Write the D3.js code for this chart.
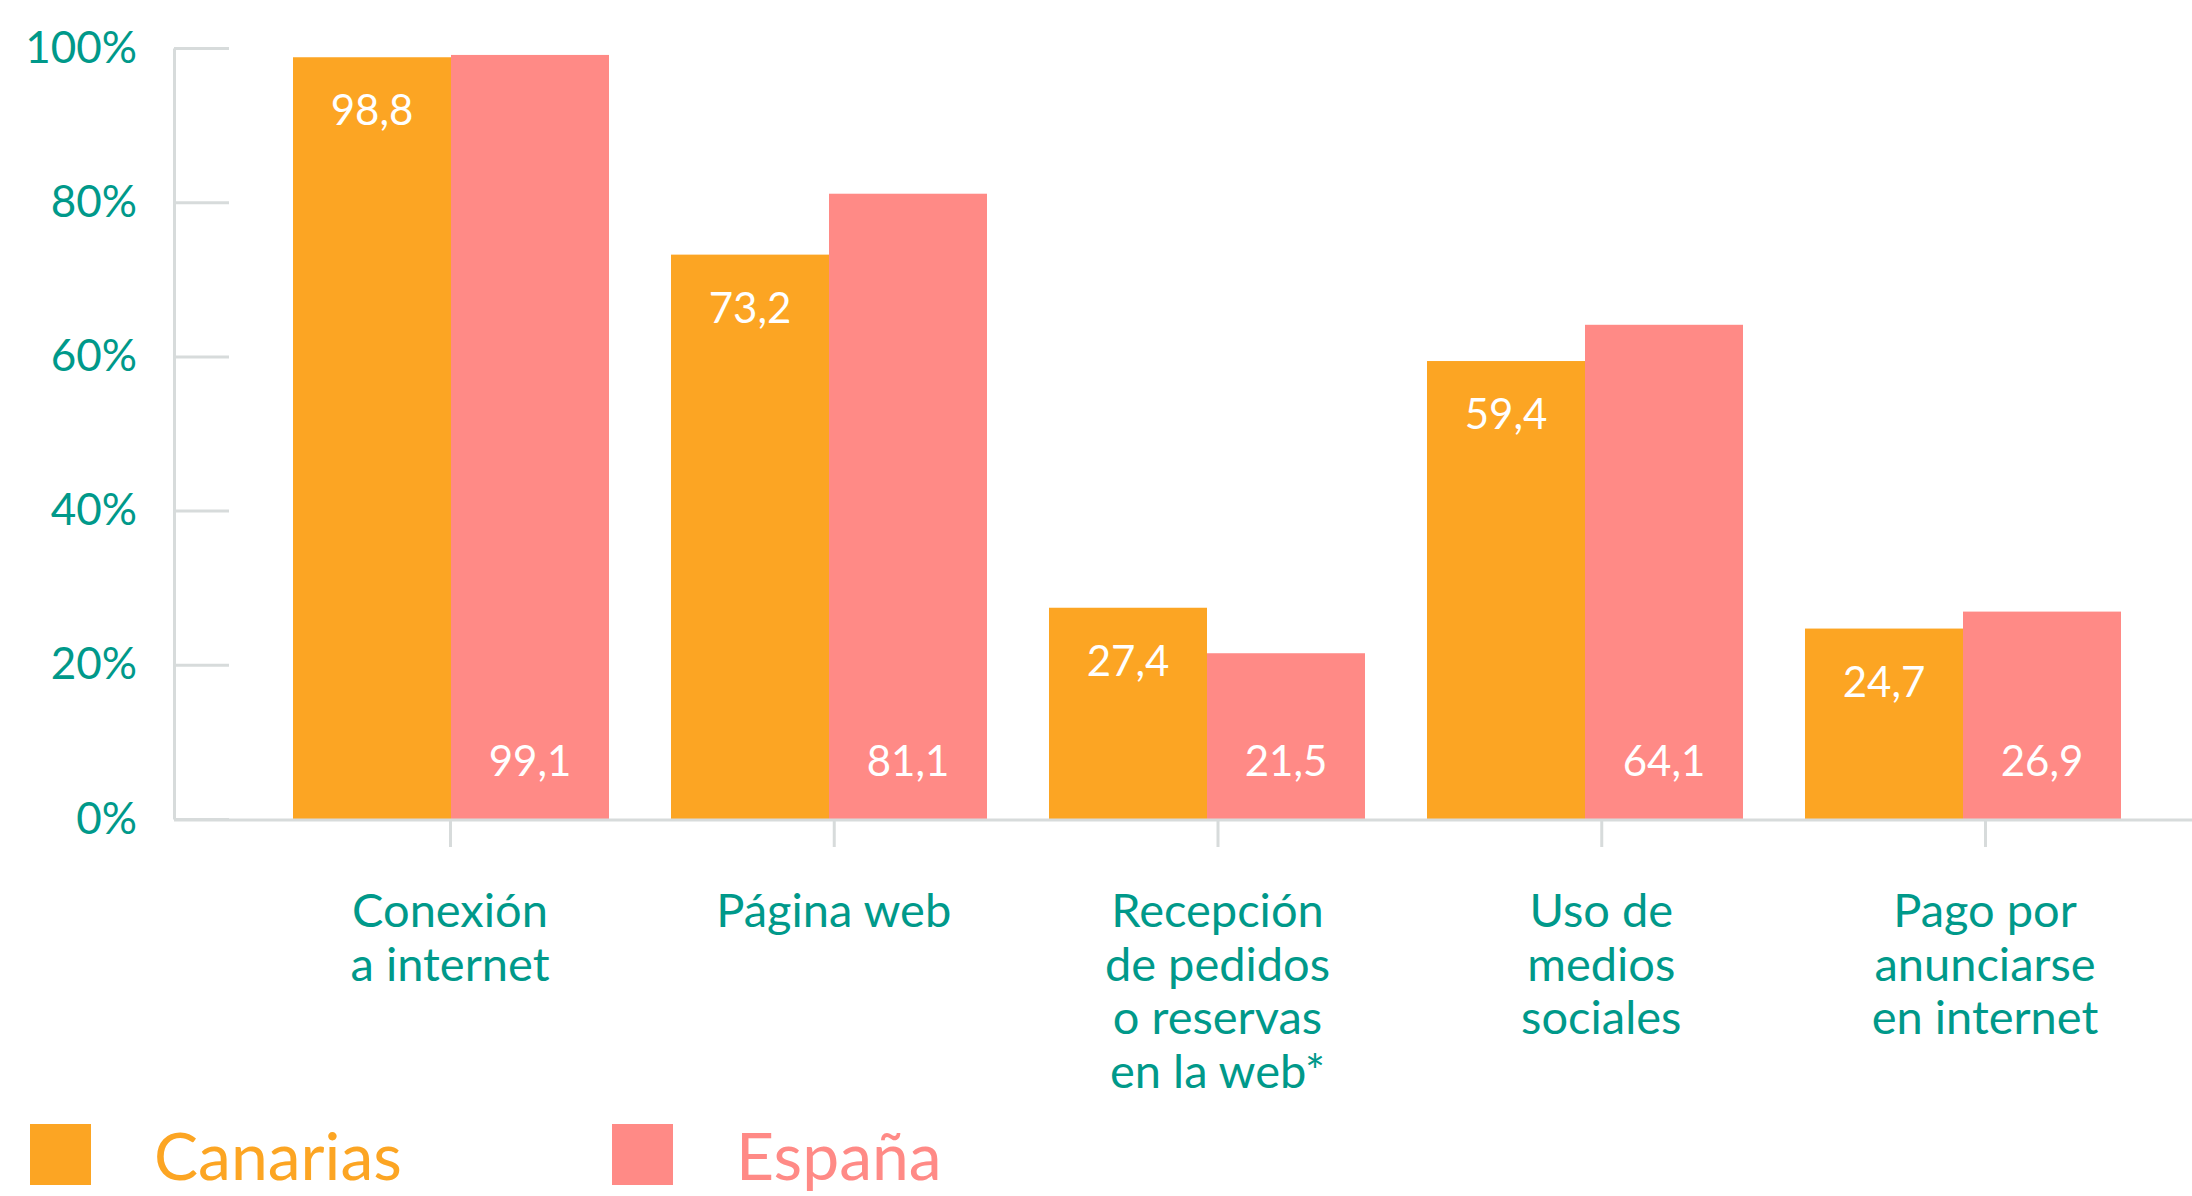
<!DOCTYPE html>
<html>
<head>
<meta charset="utf-8">
<script src="https://cdn.jsdelivr.net/npm/d3@7"></script>
<style>
  body { margin: 0; background: #fff; }
  text { font-family: Lato, "Noto Sans", sans-serif; }
</style>
</head>
<body>
<div id="chart-area"></div>
<script>
// chart data
var categories = [
  ["Conexión", "a internet"],
  ["Página web"],
  ["Recepción", "de pedidos", "o reservas", "en la web*"],
  ["Uso de", "medios", "sociales"],
  ["Pago por", "anunciarse", "en internet"]
];
var series = ["Canarias", "España"];
var canarias = [98.8, 73.2, 27.4, 59.4, 24.7];
var espana = [99.1, 81.1, 21.5, 64.1, 26.9];
var yTicks = [0, 20, 40, 60, 80, 100];

var width = 2192;
var height = 1196;
var teal = "#00998a";
var gridGray = "#d7dbdb";
var colors = d3.scaleOrdinal().domain(series).range(["#fca523", "#ff8a86"]);

var svg = d3.select("#chart-area").append("svg")
  .attr("width", width).attr("height", height);

var keys = categories.map(function(c) { return c.join(" "); });

var x0 = d3.scaleBand().domain(keys).range([262, 2152])
  .paddingInner(0.164).paddingOuter(0.082);
var x1 = d3.scaleBand().domain(series).range([0, x0.bandwidth()]);
// the category axis is spaced a little differently from the bars
var xCat = d3.scalePoint().domain(keys).range([450, 1985]);
var y = d3.scaleLinear().domain([0, 100]).range([819, 48]);

// y axis
var yAxis = d3.axisLeft(y).tickValues(yTicks).tickSize(-55).tickSizeOuter(0)
  .tickPadding(37).tickFormat(function(d) { return d + "%"; });
var yAxisGroup = svg.append("g").attr("transform", "translate(174,0)").call(yAxis);
yAxisGroup.selectAll("path, line").attr("stroke", gridGray).attr("stroke-width", 3);
yAxisGroup.selectAll("text").attr("fill", teal).attr("font-size", "44px")
  .attr("dy", "0.32em").style("font-family", "Lato, sans-serif");

// x axis ticks
var xAxis = d3.axisBottom(xCat).tickSize(28).tickSizeOuter(0).tickFormat("");
var xAxisGroup = svg.append("g").attr("transform", "translate(0," + y(0) + ")").call(xAxis);
xAxisGroup.select(".domain").remove();
xAxisGroup.selectAll("line").attr("stroke", gridGray).attr("stroke-width", 3);

// bars
var groups = svg.selectAll("g.group").data(keys).enter().append("g")
  .attr("class", "group")
  .attr("transform", function(d) { return "translate(" + x0(d) + ",0)"; });

groups.selectAll("rect").data(function(d, i) {
    return [{ s: "Canarias", v: canarias[i] }, { s: "España", v: espana[i] }];
  }).enter().append("rect")
  .attr("x", function(d) { return x1(d.s); })
  .attr("y", function(d) { return y(d.v); })
  .attr("width", x1.bandwidth())
  .attr("height", function(d) { return y(0) - y(d.v); })
  .attr("fill", function(d) { return colors(d.s); });

// baseline
svg.append("line").attr("x1", 174).attr("x2", width)
  .attr("y1", y(0) + 1).attr("y2", y(0) + 1)
  .attr("stroke", gridGray).attr("stroke-width", 3);

// value labels
var fmt = function(v) { return d3.format(".1f")(v).replace(".", ","); };
groups.append("text")
  .attr("x", x1("Canarias") + x1.bandwidth() / 2)
  .attr("y", function(d, i) { return y(canarias[i]) + 68; })
  .attr("text-anchor", "middle").attr("fill", "#fff").attr("font-size", "42px")
  .text(function(d, i) { return fmt(canarias[i]); });
groups.append("text")
  .attr("x", x1("España") + x1.bandwidth() / 2)
  .attr("y", y(0) - 43)
  .attr("text-anchor", "middle").attr("fill", "#fff").attr("font-size", "42px")
  .text(function(d, i) { return fmt(espana[i]); });

// category labels
var catLabels = svg.selectAll("text.cat").data(categories).enter().append("text")
  .attr("class", "cat")
  .attr("text-anchor", "middle").attr("fill", teal).attr("font-size", "47px")
  .attr("transform", function(d, i) {
    return "translate(" + xCat(keys[i]) + ",927)";
  });
catLabels.selectAll("tspan").data(function(d) { return d; }).enter().append("tspan")
  .attr("x", 0).attr("y", function(d, i) { return i * 53.5; })
  .text(function(d) { return d; });

// legend
var legendX = d3.scalePoint().domain(series).range([30, 612]);
var legend = svg.selectAll("g.legend").data(series).enter().append("g")
  .attr("class", "legend")
  .attr("transform", function(d) { return "translate(" + legendX(d) + ",1124)"; });
legend.append("rect").attr("width", 61).attr("height", 61)
  .attr("fill", function(d) { return colors(d); });
legend.append("text").attr("x", 124).attr("y", 56)
  .attr("font-size", "66px").attr("fill", function(d) { return colors(d); })
  .text(function(d) { return d; });
</script>
</body>
</html>
